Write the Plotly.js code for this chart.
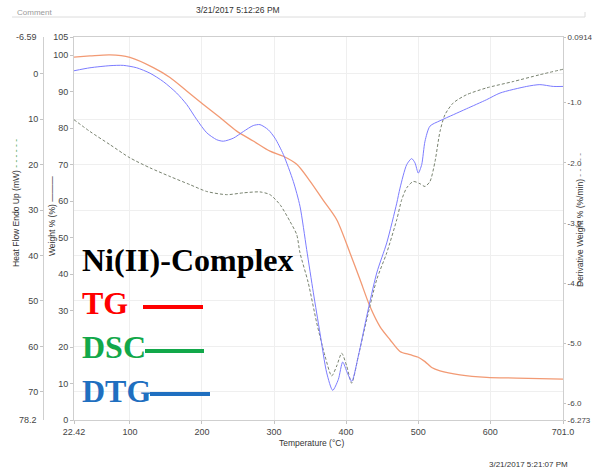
<!DOCTYPE html>
<html>
<head>
<meta charset="utf-8">
<script src="https://cdn.plot.ly/plotly-3.0.1.min.js"></script>
<style>
  html, body { margin: 0; padding: 0; background: #fff; }
  #chart { width: 592px; height: 468px; }
</style>
</head>
<body>
<div id="chart"></div>
<script>
// ---- TG: weight loss (%) against temperature (°C)
const tgTemp = [22.42, 44.6, 72.4, 100, 132.5, 155.6, 178.8, 201.9, 225, 248.2, 271.2, 294.4, 312.9, 331.5,
                349.9, 368.4, 387, 405.4, 419.3, 433.2, 447, 461, 474.8, 488.7, 500.2, 509.5, 518.8, 530.3,
                558, 595, 636.7, 701.0];
const tgWeight = [99.5, 99.8, 100.1, 99.4, 96.6, 93.9, 90.2, 86.5, 82.9, 79.2, 76.5, 73.7, 72.3, 70.1,
                  65.5, 60.2, 54.9, 45.8, 38.5, 31.1, 25.6, 22.0, 18.8, 17.9, 17.2, 16.0, 14.4, 13.5,
                  12.4, 11.7, 11.5, 11.2];

// ---- DSC: heat flow (mW), endo up
const dscTemp = [22.42, 44.6, 72.4, 100, 127.9, 155.6, 183.4, 206.6, 234.3, 257.4, 280.5, 294.4, 308.3,
                 322.2, 331.5, 336, 347.5, 359.2, 370.7, 380, 387, 393.9, 400.8, 407.8, 417, 428.6, 442.5,
                 456.4, 470.3, 477.2, 484.1, 493.3, 502.6, 509.5, 516.4, 523.4, 530.3, 537.2, 548.8,
                 567.3, 595, 632, 668.9, 701.0];
const dscHeat = [10.1, 12.7, 15.6, 18.5, 20.7, 22.6, 24.4, 25.9, 26.6, 26.2, 26.0, 26.6, 28.8,
                 32.5, 35.4, 39.4, 46.0, 54.8, 62.1, 66.5, 64.3, 61.5, 64.3, 68.1, 62.1, 54.1, 45.3,
                 39.4, 32.1, 27.7, 25.1, 23.7, 24.2, 24.8, 23.7, 19.3, 12.7, 9.0, 6.4,
                 4.6, 3.1, 1.7, 0.2, -1.0];

// ---- DTG: derivative weight (%/min)
const dtgTemp = [22.42, 44.6, 72.4, 90.8, 109.4, 127.9, 146.4, 164.9, 178.8, 192.7, 206.6, 220.4, 229.6,
                 243.5, 257.4, 271.2, 280.5, 292, 301.3, 312.9, 326.8, 336, 345.3, 354.6, 363.8, 373.1,
                 381.4, 389.2, 395.3, 401.7, 407.8, 417, 428.6, 442.5, 456.4, 470.3, 474.8, 484.1, 491,
                 495.6, 500.2, 504.9, 509.5, 516.4, 530.3, 548.8, 567.3, 595, 613.6, 650.6, 668.9, 687.5, 701.0];
const dtgDeriv = [-0.47, -0.42, -0.385, -0.38, -0.42, -0.51, -0.65, -0.84, -1.03, -1.28, -1.50, -1.615, -1.64,
                  -1.59, -1.48, -1.38, -1.365, -1.45, -1.59, -1.86, -2.31, -2.72, -3.44, -4.16, -4.83, -5.49,
                  -5.78, -5.60, -5.31, -5.49, -5.63, -5.21, -4.55, -3.83, -3.33, -2.67, -2.42, -2.03, -1.93,
                  -2.00, -2.17, -2.03, -1.64, -1.39, -1.30, -1.20, -1.10, -0.95, -0.84, -0.73, -0.70, -0.73, -0.73];

// ---- axis ticks
const tempTicks = [22.42, 100, 200, 300, 400, 500, 600, 701.0];
const tempTickText = ['22.42', '100', '200', '300', '400', '500', '600', '701.0'];
const weightTicks = [0, 10, 20, 30, 40, 50, 60, 70, 80, 90, 100, 105];
const heatTicks = [0, 10, 20, 30, 40, 50, 60, 70];
const heatEnds = ['-6.59', '78.2'];
const derivTicks = [0.0914, -1, -2, -3, -4, -5, -6, -6.273];
const derivTickText = ['0.0914', '-1.0', '-2.0', '-3.0', '-4.0', '-5.0', '-6.0', '-6.273'];

// ---- legend block
const legendTitle = 'Ni(II)-Complex';
const legendNames = ['TG', 'DSC', 'DTG'];
const legendColors = ['#ff0000', '#12a84a', '#1f6fc0'];

// ---- page geometry helpers (pixels -> paper fractions)
const W = 592, H = 468;
const px = v => v / W;
const py = v => 1 - v / H;

const SANS = 'Liberation Sans, Arial, sans-serif';
const tickFont = { family: SANS, size: 9, color: '#444' };
const rightTickFont = { family: SANS, size: 8, color: '#444' };
const smallFont = { family: SANS, size: 8.5, color: '#333' };
const serifBold = size => ({ family: 'Liberation Serif, Times New Roman, serif', size: size, weight: 'bold' });

const traces = [
  { x: tgTemp, y: tgWeight, type: 'scatter', mode: 'lines', yaxis: 'y',
    line: { color: '#f29a74', width: 1.3, shape: 'spline', smoothing: 0.8 }, hoverinfo: 'skip' },
  { x: dscTemp, y: dscHeat, type: 'scatter', mode: 'lines', yaxis: 'y2',
    line: { color: '#78826f', width: 1, dash: '3px,2px', shape: 'spline', smoothing: 0.7 }, hoverinfo: 'skip' },
  { x: dtgTemp, y: dtgDeriv, type: 'scatter', mode: 'lines', yaxis: 'y3',
    line: { color: '#7c7cff', width: 1, shape: 'spline', smoothing: 0.7 }, hoverinfo: 'skip' }
];

const axisCommon = {
  ticks: 'outside', ticklen: 3, tickcolor: '#c4c4c4', tickfont: tickFont,
  showline: true, linecolor: '#cfcfcf', linewidth: 1, zeroline: false, fixedrange: true
};

const annotations = [
  // header and footer stamps
  { x: px(15), y: py(12), text: 'Comment', font: { family: SANS, size: 8, color: '#999' }, xanchor: 'left' },
  { x: px(238), y: py(10), text: '3/21/2017 5:12:26 PM', font: smallFont },
  { x: px(570), y: py(464), text: '3/21/2017 5:21:07 PM', font: { family: SANS, size: 8, color: '#333' }, xanchor: 'right' },
  // end labels of the heat-flow scale
  { x: px(39), y: py(37), text: heatEnds[0], font: tickFont, xanchor: 'right' },
  { x: px(39), y: py(420), text: heatEnds[1], font: tickFont, xanchor: 'right' },
  // axis titles
  { x: px(9), y: py(203), textangle: -90, font: smallFont,
    text: 'Heat Flow Endo Up (mW) <span style="color:#4fa35a">- - - - - -</span>' },
  { x: px(45), y: py(216), textangle: -90, font: smallFont, text: 'Weight % (%) ———' },
  { x: px(582), y: py(220), xshift: 5, textangle: -90, font: smallFont,
    text: 'Derivative Weight % (%/min) <span style="color:#888">- - - - -</span>' },
  { x: px(312), y: py(443), text: 'Temperature (°C)', font: smallFont },
  // legend block
  { x: px(80), y: py(260), text: legendTitle, font: Object.assign({ color: '#000' }, serifBold(32)), xanchor: 'left' },
  { x: px(80), y: py(303), text: legendNames[0], font: Object.assign({ color: legendColors[0] }, serifBold(32)), xanchor: 'left' },
  { x: px(80), y: py(347), text: legendNames[1], font: Object.assign({ color: legendColors[1] }, serifBold(32)), xanchor: 'left' },
  { x: px(80), y: py(391), text: legendNames[2], font: Object.assign({ color: legendColors[2] }, serifBold(32)), xanchor: 'left' }
].map(a => Object.assign({ xref: 'paper', yref: 'paper', showarrow: false, yanchor: 'middle' }, a));

const keyLine = (x0, x1, y, color) => ({
  type: 'line', xref: 'paper', yref: 'paper', x0: px(x0), x1: px(x1), y0: py(y), y1: py(y),
  line: { color: color, width: 4 }
});

const shapes = [
  { type: 'line', xref: 'paper', yref: 'paper', x0: px(12), x1: px(585), y0: py(17), y1: py(17),
    line: { color: '#dcdcdc', width: 1 } },
  { type: 'line', xref: 'paper', yref: 'paper', x0: px(585), x1: px(585), y0: py(12), y1: py(17),
    line: { color: '#dcdcdc', width: 1 } },
  keyLine(143, 203, 307, legendColors[0]),
  keyLine(145, 204, 351, legendColors[1]),
  keyLine(150, 210, 394, legendColors[2])
];

const layout = {
  width: W, height: H,
  margin: { l: 0, r: 0, t: 0, b: 0 },
  paper_bgcolor: '#fff', plot_bgcolor: '#fff',
  showlegend: false,
  xaxis: Object.assign({}, axisCommon, {
    domain: [px(74), px(563)], range: [22.42, 701.0],
    tickvals: tempTicks, ticktext: tempTickText,
    showgrid: true, gridcolor: '#efefef', mirror: true
  }),
  yaxis: Object.assign({}, axisCommon, {
    domain: [py(420), py(37)], range: [0, 105],
    tickvals: weightTicks, showgrid: false
  }),
  yaxis2: Object.assign({}, axisCommon, {
    overlaying: 'y', side: 'left', anchor: 'free', position: px(43),
    range: [76.2, -8.1], tickvals: heatTicks,
    showgrid: true, gridcolor: '#efefef'
  }),
  yaxis3: Object.assign({}, axisCommon, {
    overlaying: 'y', side: 'right', anchor: 'x', tickfont: rightTickFont, ticklen: 2,
    range: [-6.273, 0.0914], tickvals: derivTicks, ticktext: derivTickText, showgrid: false
  }),
  annotations: annotations,
  shapes: shapes
};

Plotly.newPlot('chart', traces, layout, { staticPlot: true, displayModeBar: false });
</script>
</body>
</html>
